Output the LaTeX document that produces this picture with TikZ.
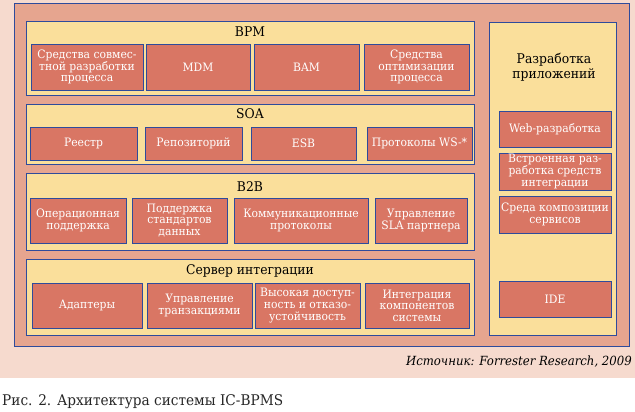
\documentclass[tikz,border=0pt]{standalone}
\usepackage{fontspec}
\setmainfont{DejaVu Serif}[FakeStretch=0.93]
\usepackage{xcolor}
\usetikzlibrary{positioning}

\definecolor{bgpink}{HTML}{F6DACE}
\definecolor{outersalmon}{HTML}{E6A58F}
\definecolor{layeryellow}{HTML}{FADF9B}
\definecolor{itemred}{HTML}{D97664}
\definecolor{edgeblue}{HTML}{2E4B9C}

\begin{document}
\begin{tikzpicture}[
    x=1pt, y=-1pt,
    frame/.style={draw=edgeblue, line width=0.8pt, inner sep=0pt},
    layer/.style={frame, fill=layeryellow},
    item/.style={frame, fill=itemred, text=white, align=center,
        font=\fontsize{11.6}{11.6}\selectfont},
    title/.style={font=\fontsize{13.3}{15}\selectfont, align=center, inner sep=0pt}
]
    \useasboundingbox (0,0) rectangle (635,412);
    \fill[bgpink] (0,0) rectangle (635,378);

    \node at (321.5,174.5) [frame, fill=outersalmon, minimum width=615pt, minimum height=343pt] (Outer) {};

    % BPM
    \node at (250,58) [layer, minimum width=448pt, minimum height=74pt] (BPM) {};
    \node at (250,32) [title] (BPMt) {BPM};
    \node at (87,67)    [item, minimum width=112pt, minimum height=46pt] (BPM1) {Средства совмес-\\тной разработки\\процесса};
    \node at (198,67)   [item, minimum width=104pt, minimum height=46pt] (BPM2) {MDM};
    \node at (306.5,67) [item, minimum width=105pt, minimum height=46pt] (BPM3) {BAM};
    \node at (416.5,67) [item, minimum width=105pt, minimum height=46pt] (BPM4) {Средства\\оптимизации\\процесса};

    % SOA
    \node at (250,134) [layer, minimum width=448pt, minimum height=60pt] (SOA) {};
    \node at (250,114) [title] (SOAt) {SOA};
    \node at (83.5,143.5)  [item, minimum width=107pt, minimum height=33pt] (SOA1) {Реестр};
    \node at (193.5,143.5) [item, minimum width=97pt,  minimum height=33pt] (SOA2) {Репозиторий};
    \node at (303.5,143.5) [item, minimum width=105pt, minimum height=33pt] (SOA3) {ESB};
    \node at (419.5,143.5) [item, minimum width=105pt, minimum height=33pt] (SOA4) {Протоколы WS-*};

    % B2B
    \node at (250,211.5) [layer, minimum width=448pt, minimum height=77pt] (BtoB) {};
    \node at (250,187) [title] (BtoBt) {B2B};
    \node at (78,220.5)    [item, minimum width=96pt,  minimum height=45pt] (BtoB1) {Операционная\\поддержка};
    \node at (179.5,220.5) [item, minimum width=95pt,  minimum height=45pt] (BtoB2) {Поддержка\\стандартов\\данных};
    \node at (301,220.5)   [item, minimum width=134pt, minimum height=45pt] (BtoB3) {Коммуникационные\\протоколы};
    \node at (421,220.5)   [item, minimum width=92pt,  minimum height=45pt] (BtoB4) {Управление\\SLA партнера};

    % Integration server
    \node at (250,297) [layer, minimum width=448pt, minimum height=76pt] (Srv) {};
    \node at (250,271) [title] (Srvt) {Сервер интеграции};
    \node at (87,305.5)    [item, minimum width=110pt, minimum height=45pt] (Srv1) {Адаптеры};
    \node at (199.5,305.5) [item, minimum width=105pt, minimum height=45pt] (Srv2) {Управление\\транзакциями};
    \node at (307.5,305.5) [item, minimum width=105pt, minimum height=45pt] (Srv3) {Высокая доступ-\\ность и отказо-\\устойчивость};
    \node at (417,305.5)   [item, minimum width=104pt, minimum height=45pt] (Srv4) {Интеграция\\компонентов\\системы};

    % Application development
    \node at (552.5,178.5) [layer, minimum width=127pt, minimum height=313pt] (Dev) {};
    \node at (554,67.5) [title] (Devt) {Разработка\\приложений};
    \node at (555,129)   [item, minimum width=112pt, minimum height=36pt] (Dev1) {Web-разработка};
    \node at (555,171.5) [item, minimum width=112pt, minimum height=37pt] (Dev2) {Встроенная раз-\\работка средств\\интеграции};
    \node at (555,214.5) [item, minimum width=112pt, minimum height=37pt] (Dev3) {Среда композиции\\сервисов};
    \node at (555,299)   [item, minimum width=112pt, minimum height=36pt] (Dev4) {IDE};

    % Source and caption
    \node at (632,362) [anchor=east, inner sep=0pt, font=\fontsize{12.6}{14}\selectfont\itshape] (Src) {Источник: Forrester Research, 2009};
    \node at (2,402) [anchor=west, inner sep=0pt, text=black!85, font=\fontsize{14.7}{16}\selectfont] (Cap) {Рис. 2. Архитектура системы IC-BPMS};
\end{tikzpicture}
\end{document}
